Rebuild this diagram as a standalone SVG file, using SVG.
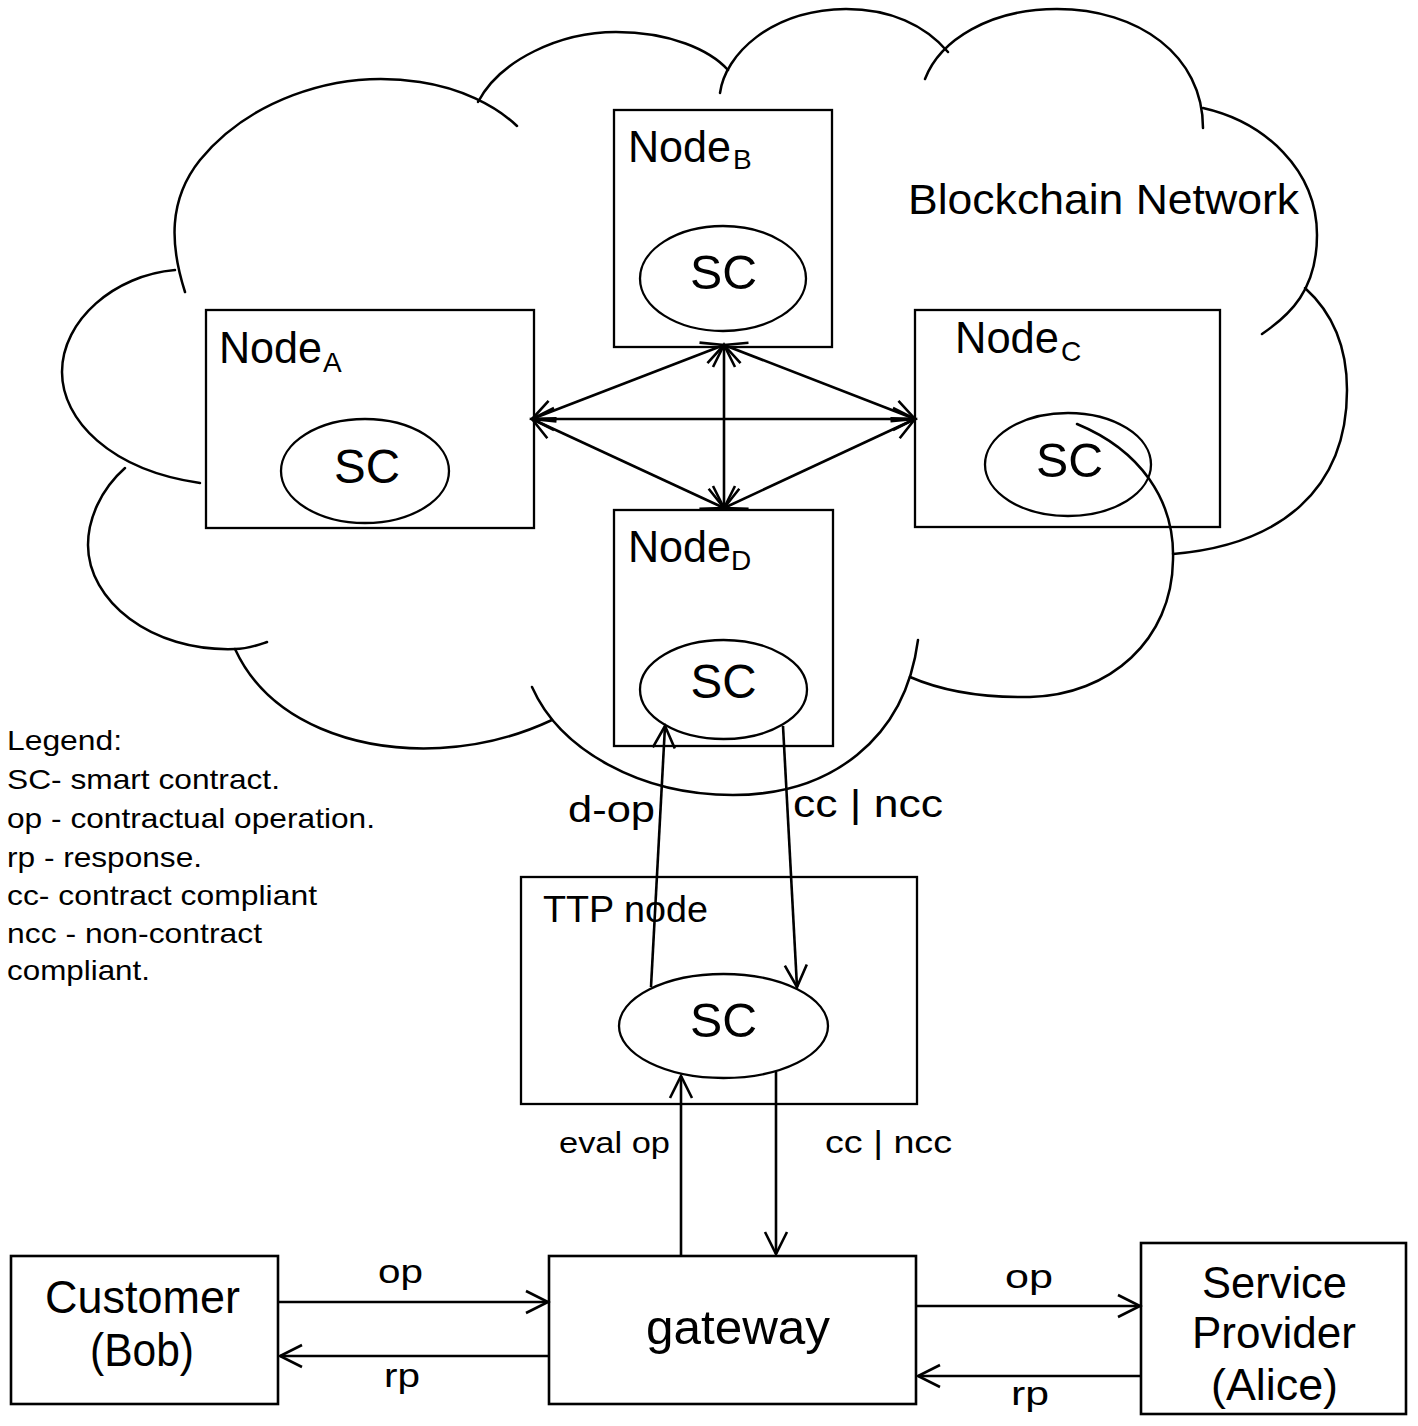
<svg xmlns="http://www.w3.org/2000/svg" width="1418" height="1426" viewBox="0 0 1418 1426">
<defs>
<style>
.ln{fill:none;stroke:#000;stroke-width:2.5;stroke-linecap:round}
.bx{fill:none;stroke:#000;stroke-width:2.3}
.bb{fill:none;stroke:#000;stroke-width:2.6}
.el{fill:none;stroke:#000;stroke-width:2.3}
.ar{fill:none;stroke:#000;stroke-width:2.6}
text{font-family:"Liberation Sans",Arial,"DejaVu Sans",sans-serif;fill:#000}
.t44{font-size:44px}
.sub{font-size:28px}
.sc{font-size:48px}
.lg{font-size:28px}
</style>
<marker id="ah" markerUnits="userSpaceOnUse" markerWidth="30" markerHeight="30" viewBox="-26 -15 30 30" refX="0" refY="0" orient="auto-start-reverse" overflow="visible">
<path d="M-22,-11 L0,0 L-22,11" fill="none" stroke="#000" stroke-width="2.6"/>
</marker>
</defs>
<rect x="0" y="0" width="1418" height="1426" fill="#fff"/>

<g id="cloud">
<path class="ln" d="M185,292 C170,245 168,200 200,160 C245,105 330,68 420,82 C460,88 495,105 517,126"/>
<path class="ln" d="M478,102 C500,60 560,32 616,32 C670,32 710,50 728,70"/>
<path class="ln" d="M720,93 C725,55 770,10 846,9 C890,9 925,25 948,52"/>
<path class="ln" d="M925,79 C940,40 990,9 1057,9 C1138,9 1203,55 1203,128"/>
<path class="ln" d="M1203,108 C1265,122 1317,170 1317,235 C1317,290 1290,315 1262,334"/>
<path class="ln" d="M1305,288 C1335,315 1347,350 1347,390 C1347,490 1280,545 1173,554"/>
<path class="ln" d="M1077,424 C1140,450 1175,500 1173,560 C1172,640 1110,695 1030,697 C980,698 940,690 910,677"/>
<path class="ln" d="M532,687 C560,750 640,795 733,795 C830,795 905,740 918,640"/>
<path class="ln" d="M235,649 C270,725 360,752 440,748 C480,746 520,735 552,720"/>
<path class="ln" d="M125,468 C100,490 88,520 88,545 C88,600 150,652 235,649 C248,649 258,645 267,642"/>
<path class="ln" d="M175,270 C115,275 62,320 62,372 C62,420 110,470 200,483"/>
</g>

<text id="cloud-label" x="908" y="214" font-size="42" textLength="391" lengthAdjust="spacingAndGlyphs">Blockchain Network</text>

<g id="nodeA">
<rect class="bx" x="206" y="310" width="328" height="218"/>
<text class="t44" x="219" y="363" textLength="103" lengthAdjust="spacingAndGlyphs">Node</text>
<text class="sub" x="323" y="372">A</text>
<ellipse class="el" cx="365" cy="471" rx="84" ry="52"/>
<text class="sc" x="334" y="483" textLength="66" lengthAdjust="spacingAndGlyphs">SC</text>
</g>

<g id="nodeB">
<rect class="bx" x="614" y="110" width="218" height="237"/>
<text class="t44" x="628" y="162" textLength="103" lengthAdjust="spacingAndGlyphs">Node</text>
<text class="sub" x="733" y="169">B</text>
<ellipse class="el" cx="723" cy="278.5" rx="83" ry="52.5"/>
<text class="sc" x="690" y="289" textLength="67" lengthAdjust="spacingAndGlyphs">SC</text>
</g>

<g id="nodeC">
<rect class="bx" x="915" y="310" width="305" height="217"/>
<text class="t44" x="955" y="353" textLength="104" lengthAdjust="spacingAndGlyphs">Node</text>
<text class="sub" x="1061" y="361">C</text>
<ellipse class="el" cx="1068" cy="464.5" rx="83" ry="51.5"/>
<text class="sc" x="1036" y="477" textLength="67" lengthAdjust="spacingAndGlyphs">SC</text>
</g>

<g id="nodeD">
<rect class="bx" x="614" y="510" width="219" height="236"/>
<text class="t44" x="628" y="562" textLength="103" lengthAdjust="spacingAndGlyphs">Node</text>
<text class="sub" x="731" y="570">D</text>
<ellipse class="el" cx="723.5" cy="689.5" rx="83.5" ry="49.5"/>
<text class="sc" x="690.5" y="698" textLength="66" lengthAdjust="spacingAndGlyphs">SC</text>
</g>

<g id="ttp">
<rect class="bx" x="521" y="877" width="396" height="227"/>
<text x="543" y="922" font-size="37" textLength="165" lengthAdjust="spacingAndGlyphs">TTP node</text>
<ellipse class="el" cx="723.5" cy="1026" rx="104.5" ry="52"/>
<text class="sc" x="690" y="1037" textLength="67" lengthAdjust="spacingAndGlyphs">SC</text>
</g>

<g id="customer">
<rect class="bb" x="11" y="1256" width="267" height="148"/>
<text x="45" y="1313" font-size="46" textLength="195" lengthAdjust="spacingAndGlyphs">Customer</text>
<text x="90" y="1366" font-size="46" textLength="104" lengthAdjust="spacingAndGlyphs">(Bob)</text>
</g>

<g id="gateway">
<rect class="bb" x="549" y="1256" width="367" height="148"/>
<text x="646" y="1344" font-size="48" textLength="184" lengthAdjust="spacingAndGlyphs">gateway</text>
</g>

<g id="provider">
<rect class="bb" x="1141" y="1243" width="265" height="171"/>
<text x="1202" y="1298" font-size="45" textLength="145" lengthAdjust="spacingAndGlyphs">Service</text>
<text x="1192" y="1348" font-size="45" textLength="164" lengthAdjust="spacingAndGlyphs">Provider</text>
<text x="1211" y="1400" font-size="45" textLength="127" lengthAdjust="spacingAndGlyphs">(Alice)</text>
</g>

<g id="connectors">
<line class="ar" x1="532" y1="419" x2="915" y2="419" marker-start="url(#ah)" marker-end="url(#ah)"/>
<line class="ar" x1="724" y1="345" x2="724" y2="508" marker-start="url(#ah)" marker-end="url(#ah)"/>
<line class="ar" x1="532" y1="419" x2="724" y2="345" marker-start="url(#ah)" marker-end="url(#ah)"/>
<line class="ar" x1="724" y1="345" x2="915" y2="419" marker-start="url(#ah)" marker-end="url(#ah)"/>
<line class="ar" x1="532" y1="419" x2="724" y2="508" marker-start="url(#ah)" marker-end="url(#ah)"/>
<line class="ar" x1="724" y1="508" x2="915" y2="419" marker-start="url(#ah)" marker-end="url(#ah)"/>
<line class="ar" x1="651" y1="987" x2="665" y2="726" marker-end="url(#ah)"/>
<line class="ar" x1="783" y1="726" x2="797" y2="987" marker-end="url(#ah)"/>
<line class="ar" x1="681" y1="1256" x2="681" y2="1076" marker-end="url(#ah)"/>
<line class="ar" x1="776" y1="1072" x2="776" y2="1254" marker-end="url(#ah)"/>
<line class="ar" x1="278" y1="1302" x2="548" y2="1302" marker-end="url(#ah)"/>
<line class="ar" x1="549" y1="1356" x2="280" y2="1356" marker-end="url(#ah)"/>
<line class="ar" x1="916" y1="1306" x2="1140" y2="1306" marker-end="url(#ah)"/>
<line class="ar" x1="1141" y1="1376" x2="918" y2="1376" marker-end="url(#ah)"/>
<text x="568" y="822" font-size="37" textLength="87" lengthAdjust="spacingAndGlyphs">d-op</text>
<text x="793" y="817" font-size="38" textLength="150" lengthAdjust="spacingAndGlyphs">cc | ncc</text>
<text x="559" y="1153" font-size="30" textLength="111" lengthAdjust="spacingAndGlyphs">eval op</text>
<text x="825" y="1153" font-size="31" textLength="127" lengthAdjust="spacingAndGlyphs">cc | ncc</text>
<text x="378" y="1283" font-size="34" textLength="45" lengthAdjust="spacingAndGlyphs">op</text>
<text x="384" y="1387" font-size="34" textLength="36" lengthAdjust="spacingAndGlyphs">rp</text>
<text x="1005" y="1288" font-size="34" textLength="48" lengthAdjust="spacingAndGlyphs">op</text>
<text x="1011" y="1405" font-size="34" textLength="38" lengthAdjust="spacingAndGlyphs">rp</text>
</g>

<g id="legend">
<text class="lg" x="7" y="750" textLength="115" lengthAdjust="spacingAndGlyphs">Legend:</text>
<text class="lg" x="7" y="789" textLength="273" lengthAdjust="spacingAndGlyphs">SC- smart contract.</text>
<text class="lg" x="7" y="828" textLength="368" lengthAdjust="spacingAndGlyphs">op - contractual operation.</text>
<text class="lg" x="7" y="866.5" textLength="195" lengthAdjust="spacingAndGlyphs">rp - response.</text>
<text class="lg" x="7" y="905" textLength="310" lengthAdjust="spacingAndGlyphs">cc- contract compliant</text>
<text class="lg" x="7" y="943" textLength="255" lengthAdjust="spacingAndGlyphs">ncc - non-contract</text>
<text class="lg" x="7" y="980" textLength="143" lengthAdjust="spacingAndGlyphs">compliant.</text>
</g>
</svg>
